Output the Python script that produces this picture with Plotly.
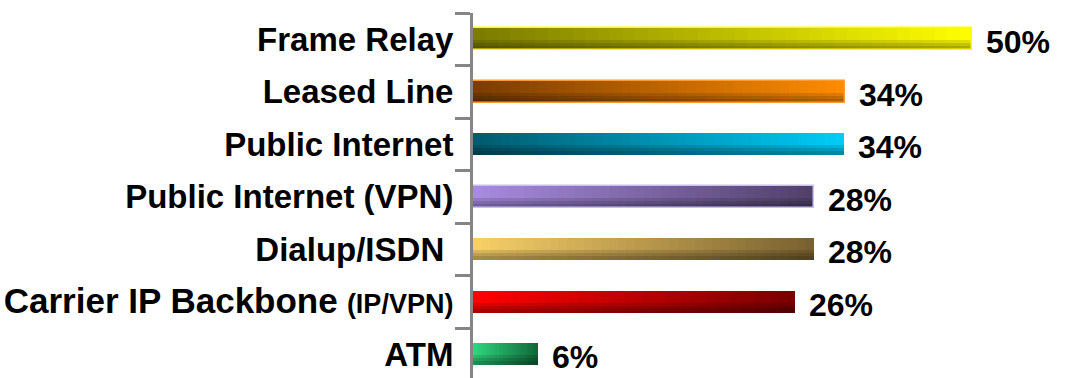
import plotly.graph_objects as go

# ---- data ----
categories = [
    "Frame Relay",
    "Leased Line",
    "Public Internet",
    "Public Internet (VPN)",
    "Dialup/ISDN\u00a0",
    "<span style='font-size:35px'>Carrier IP Backbone</span> <span style='font-size:27px'>(IP/VPN)</span>",
    "ATM",
]
# bar lengths as drawn in the picture (the source chart is not strictly proportional)
bar_lengths = [49.9, 37.2, 37.1, 34.1, 34.1, 32.2, 6.5]
value_labels = ["50%", "34%", "34%", "28%", "28%", "26%", "6%"]
left_colors = ["#7a7a00", "#7a3c00", "#005a6e", "#a88ce0", "#f8d068", "#ff0000", "#30d880"]
right_colors = ["#ffff00", "#ff8c00", "#00ccf8", "#504068", "#786030", "#780000", "#106838"]
border_colors = ["#ffff00", "#ff9a30", "rgba(0,0,0,0)", "#c8c0f4",
                 "rgba(0,0,0,0)", "rgba(0,0,0,0)", "rgba(0,0,0,0)"]

# ---- style ----
FONT = "Liberation Sans, Arial, sans-serif"
BAR_W = 0.42
N_SEG = 40
AXIS_GRAY = "#858585"


def hex_rgb(h):
    h = h.lstrip("#")
    return tuple(int(h[i:i + 2], 16) for i in (0, 2, 4))


def lerp(c1, c2, t):
    a, b = hex_rgb(c1), hex_rgb(c2)
    return "rgb(%d,%d,%d)" % tuple(round(a[i] + (b[i] - a[i]) * t) for i in range(3))


fig = go.Figure()

# horizontal gradient built from stacked segments
for k in range(N_SEG):
    t = (k + 0.5) / N_SEG
    fig.add_trace(go.Bar(
        y=categories,
        x=[v / N_SEG for v in bar_lengths],
        base=[v * k / N_SEG for v in bar_lengths],
        orientation="h",
        width=BAR_W,
        marker=dict(color=[lerp(l, r, t) for l, r in zip(left_colors, right_colors)],
                    line=dict(width=0)),
        hoverinfo="skip",
        showlegend=False,
    ))

# darker lower part for the 3-D look
for frac in (0.45, 0.32, 0.18):
    s = BAR_W * frac
    fig.add_trace(go.Bar(
        y=categories,
        x=bar_lengths,
        orientation="h",
        width=s,
        offset=BAR_W / 2 - s,
        marker=dict(color="rgba(0,0,0,0.12)", line=dict(width=0)),
        hoverinfo="skip",
        showlegend=False,
    ))

# light border on some bars
fig.add_trace(go.Bar(
    y=categories,
    x=bar_lengths,
    orientation="h",
    width=BAR_W,
    marker=dict(color="rgba(0,0,0,0)", line=dict(color=border_colors, width=1.5)),
    hoverinfo="skip",
    showlegend=False,
))

for cat, v, lab in zip(categories, bar_lengths, value_labels):
    fig.add_annotation(
        x=v, y=cat, text="<b>%s</b>" % lab, showarrow=False,
        xanchor="left", yanchor="middle", xshift=12, yshift=-3,
        font=dict(family=FONT, size=32, color="black"),
    )

fig.update_layout(
    width=1087, height=378,
    margin=dict(l=473, r=0, t=13, b=0, pad=0),
    paper_bgcolor="white", plot_bgcolor="white",
    barmode="overlay",
    bargap=0,
    showlegend=False,
    font=dict(family=FONT, size=33, color="black"),
)
fig.update_xaxes(visible=False, range=[0, 61.4], fixedrange=True)
fig.update_yaxes(
    type="category",
    categoryorder="array", categoryarray=categories,
    range=[6.45, -0.5],
    showline=True, linecolor=AXIS_GRAY, linewidth=3,
    ticks="outside", ticklen=15, tickwidth=3, tickcolor=AXIS_GRAY,
    tickson="boundaries",
    ticklabelstandoff=10,
    showgrid=False, zeroline=False,
    tickfont=dict(family=FONT, size=33, color="black", weight="bold"),
    automargin=False,
    fixedrange=True,
)

fig.write_html("out.html")
